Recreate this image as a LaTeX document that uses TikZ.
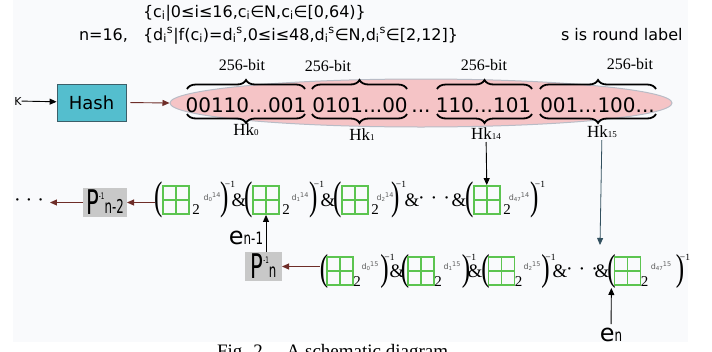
\documentclass[tikz,border=0pt]{standalone}
\usepackage{graphicx}
\usepackage{fontspec}
\setmainfont{Liberation Serif}
\newfontfamily\dv{DejaVu Sans}
\usetikzlibrary{arrows.meta,decorations.pathreplacing,shapes.geometric,calc}
\definecolor{bgpanel}{RGB}{249,250,252}
\definecolor{hashfill}{RGB}{84,190,206}
\definecolor{hashdraw}{RGB}{60,95,105}
\definecolor{ellfill}{RGB}{245,196,198}
\definecolor{elldraw}{RGB}{185,188,198}
\definecolor{gridgreen}{RGB}{92,196,80}
\definecolor{pgray}{RGB}{200,200,200}
\definecolor{supgray}{RGB}{95,95,95}
\definecolor{redarrow}{RGB}{110,45,40}
\definecolor{bluearrow}{RGB}{50,80,95}
\newcommand\dsub[2]{d\raisebox{-1pt}{\fontsize{5.5}{5.5}\selectfont #1}\raisebox{2.5pt}{\fontsize{6.5}{6.5}\selectfont #2}}
\newcommand\termA[6]{%
  \node[parS] (#1lp) at (#2-17,200) {\scalebox{1}[1.6]{(}};
  \node[gboxS] (#1b) at (#2,200) {};
  \node[twoS] (#1two) at (#2+20,210) {2};
  \node[supS] (#1sup) at (#3,197) {\dsub{#5}{#6}};
  \node[parS] (#1rp) at (#4,200) {\scalebox{1}[1.6]{)}};
  \node[invS] (#1inv) at (#4+5,184) {−1};
}
\newcommand\termB[6]{%
  \node[parS] (#1lp) at (#2-16,271) {\scalebox{1}[1.5]{(}};
  \node[gboxS] (#1b) at (#2,271) {};
  \node[twoS] (#1two) at (#2+17,282) {2};
  \node[supS] (#1sup) at (#3,266) {\dsub{#5}{#6}};
  \node[parS] (#1rp) at (#4,271) {\scalebox{1}[1.5]{)}};
  \node[invS] (#1inv) at (#4+5,257) {−1};
}
\begin{document}
\begin{tikzpicture}[x=1pt,y=-1pt,
  lbl/.style={inner sep=0pt,outer sep=0pt},
  txtTop/.style={lbl,font=\dv\fontsize{16}{16}\selectfont,anchor=base west},
  bitsS/.style={lbl,font=\dv\fontsize{20}{20}\selectfont,anchor=base},
  bitlblS/.style={lbl,font=\fontsize{16}{16}\selectfont,anchor=base},
  hkS/.style={lbl,font=\fontsize{17}{17}\selectfont,anchor=base},
  brcS/.style={decorate,decoration={brace,amplitude=9pt},line width=1.8pt},
  brcB/.style={decorate,decoration={brace,amplitude=9pt,mirror},line width=1.8pt},
  gboxS/.style={draw=gridgreen,line width=1.8pt,minimum width=26pt,minimum height=28pt,inner sep=0pt,
    path picture={\draw[gridgreen,line width=1.8pt] (path picture bounding box.north) -- (path picture bounding box.south)
      (path picture bounding box.west) -- (path picture bounding box.east);}},
  parS/.style={lbl,font=\fontsize{25}{25}\selectfont},
  ampS/.style={lbl,font=\fontsize{19}{19}\selectfont},
  twoS/.style={lbl,font=\fontsize{15}{15}\selectfont},
  invS/.style={lbl,font=\fontsize{9.5}{9.5}\selectfont},
  supS/.style={lbl,font=\dv\fontsize{8}{8}\selectfont,text=supgray},
  dotS/.style={lbl,font=\fontsize{20}{20}\selectfont},
  pboxS/.style={lbl,fill=pgray},
  bigS/.style={lbl,font=\dv},
  arrS/.style={-{Triangle[length=7pt,width=6pt]},line width=0.9pt},
]
\useasboundingbox (0,0) rectangle (712,351);
\clip (0,0) rectangle (712,351);
\fill[bgpanel] (13,0) rectangle (688,342);

% top formulas
\node[txtTop] (cset) at (143,17) {\{c\textsubscript{i}|0≤i≤16,c\textsubscript{i}∈N,c\textsubscript{i}∈[0,64)\}};
\node[txtTop] (nval) at (79,40) {n=16,};
\node[txtTop] (dset) at (143,40) {\{d\textsubscript{i}\textsuperscript{s}|f(c\textsubscript{i})=d\textsubscript{i}\textsuperscript{s},0≤i≤48,d\textsubscript{i}\textsuperscript{s}∈N,d\textsubscript{i}\textsuperscript{s}∈[2,12]\}};
\node[txtTop] (slbl) at (561,40) {s is round label};

% key and hash
\node[lbl,font=\dv\fontsize{11}{11}\selectfont] (kk) at (18,101) {K};
\node[draw=hashdraw,fill=hashfill,line width=0.8pt,minimum width=69pt,minimum height=37pt,inner sep=0pt,
  font=\dv\fontsize{18}{18}\selectfont] (hash) at (91.5,102.5) {Hash};
\node[ellipse,fill=ellfill,draw=elldraw,line width=1pt,minimum width=502pt,minimum height=48pt,inner sep=0pt] (ell) at (421,103) {};

% bit string
\node[bitsS] (s1) at (246,112) {00110...001};
\node[bitsS] (s2) at (360,112) {0101...00};
\node[bitsS] (s3) at (421,112) {...};
\node[bitsS] (s4) at (483.5,112) {110...101};
\node[bitsS] (s5) at (597.5,112) {001...100...};

% braces
\draw[brcS] (187,89) -- (305,89);
\draw[brcS] (312,89) -- (407,89);
\draw[brcS] (437,89) -- (532,89);
\draw[brcS] (540,89) -- (656,89);
\draw[brcB] (187,114) -- (305,114);
\draw[brcB] (312,114) -- (407,114);
\draw[brcB] (437,114) -- (532,114);
\draw[brcB] (540,114) -- (656,114);

\node[bitlblS] (l1) at (242,70) {256-bit};
\node[bitlblS] (l2) at (328,71) {256-bit};
\node[bitlblS] (l3) at (484,70) {256-bit};
\node[bitlblS] (l4) at (630,69) {256-bit};

\node[hkS] (hk0) at (246,135) {Hk{\fontsize{9}{9}\selectfont 0}};
\node[hkS] (hk1) at (362,140) {Hk{\fontsize{9}{9}\selectfont 1}};
\node[hkS] (hk14) at (486,139) {Hk{\fontsize{9}{9}\selectfont 14}};
\node[hkS] (hk15) at (602,137) {Hk{\fontsize{9}{9}\selectfont 15}};

% row 1
\node[dotS] (ldots) at (29,203) {·\hspace{5pt}·\hspace{5pt}·};
\node[pboxS,minimum width=44pt,minimum height=29pt] (pn2) at (105,202.5)
  {\dv\scalebox{0.62}[1]{\fontsize{34}{34}\selectfont P\raisebox{15pt}{\fontsize{9}{9}\selectfont -1}\raisebox{1pt}{\fontsize{19}{19}\selectfont n-2}}};
\termA{ra1}{176}{212}{225}{0}{14}
\node[ampS] (ram1) at (239,200) {\&};
\termA{ra2}{266}{300}{314}{1}{14}
\node[ampS] (ram2) at (328,200) {\&};
\termA{ra3}{355}{385}{396}{2}{14}
\node[ampS] (ram3) at (412,200) {\&};
\node[dotS] (radots) at (434,201) {·\hspace{6pt}·\hspace{6pt}·};
\node[ampS] (ram4) at (459,200) {\&};
\termA{ra4}{487}{519}{535}{47}{14}

% row 2
\node[pboxS,minimum width=37pt,minimum height=29pt] (pn) at (263.5,266.5)
  {\dv\scalebox{0.62}[1]{\fontsize{34}{34}\selectfont P\raisebox{15pt}{\fontsize{9}{9}\selectfont -1}\raisebox{1pt}{\fontsize{19}{19}\selectfont n}}};
\termB{rb1}{340}{370}{384.5}{0}{15}
\node[ampS] (rbm1) at (397,271) {\&};
\termB{rb2}{421}{452}{466}{1}{15}
\node[ampS] (rbm2) at (475,271) {\&};
\termB{rb3}{501.5}{532}{545.5}{2}{15}
\node[ampS] (rbm3) at (560,271) {\&};
\node[dotS] (rbdots) at (582,272) {·\hspace{6pt}·\hspace{6pt}·};
\node[ampS] (rbm4) at (602,271) {\&};
\termB{rb4}{627.5}{661}{680}{47}{15}

\node[bigS] (en1) at (246,238) {\fontsize{24}{24}\selectfont e\scalebox{0.7}[1]{\fontsize{17}{17}\selectfont n-1}};
\node[bigS] (en) at (611,335) {\fontsize{24}{24}\selectfont e\scalebox{0.7}[1]{\fontsize{17}{17}\selectfont n}};
\coordinate (hkend) at (600,245);

% connectors
\draw[arrS] (kk) -- (hash);
\draw[arrS,redarrow,shorten <=4pt] (hash.east) -- (ell.west);
\draw[arrS,shorten <=3pt] (hk14) -- (ra4b);
\draw[arrS,bluearrow,line width=0.8pt,shorten <=3pt] (hk15) -- (hkend);
\draw[arrS,redarrow] (ra1lp.west |- pn2.east) -- (pn2.east);
\draw[arrS,redarrow,shorten >=6pt] (pn2.west) -- (ldots.east |- pn2.west);
\draw[arrS,redarrow] (rb1lp.west |- pn.east) -- (pn.east);
\draw[arrS] (ra2b.south |- pn.north) -- (ra2b.south);
\draw[arrS,shorten <=4pt] (en) -- (rb4lp);

% caption (cut by the frame)
\node[lbl,font=\fontsize{19}{19}\selectfont,anchor=base west] (cap) at (217,357) {Fig. 2.\quad A schematic diagram};
\end{tikzpicture}
\end{document}
